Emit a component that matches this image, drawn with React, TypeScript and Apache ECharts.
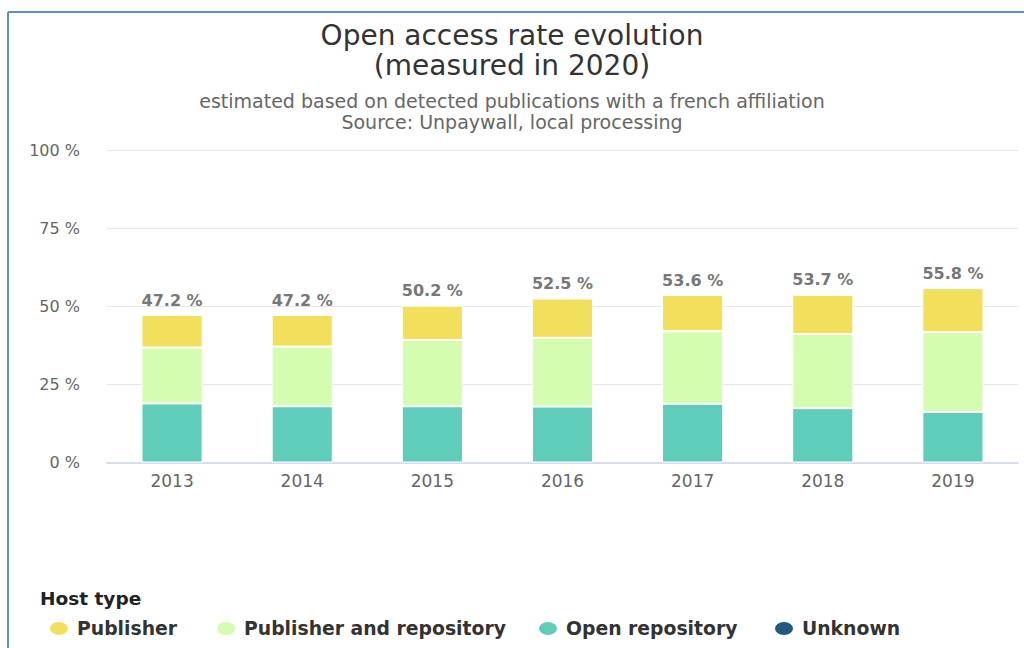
import React, { useEffect, useRef } from "react";
import * as echarts from "echarts";

const years = ["2013", "2014", "2015", "2016", "2017", "2018", "2019"];
const openRepository = [18.9, 18.0, 18.0, 17.9, 18.8, 17.4, 16.2];
const publisherAndRepository = [17.9, 19.1, 21.2, 22.0, 23.2, 23.7, 25.5];
const publisher = [10.4, 10.1, 11.0, 12.6, 11.6, 12.6, 14.1];
const unknown = [0, 0, 0, 0, 0, 0, 0];
const totals = ["47.2", "47.2", "50.2", "52.5", "53.6", "53.7", "55.8"];
const yTicks = [0, 25, 50, 75, 100];

const seriesNames = ["Publisher", "Publisher and repository", "Open repository", "Unknown"];
const colors: Record<string, string> = {
  Publisher: "#f2e05c",
  "Publisher and repository": "#d4fdb1",
  "Open repository": "#60cdbb",
  Unknown: "#21587f",
};
const legendLefts = [43, 210, 532, 768];
const FONT = "DejaVu Sans, sans-serif";

export default function App() {
  const ref = useRef<HTMLDivElement>(null);
  useEffect(() => {
    document.body.style.margin = "0";
    if (!ref.current) return;
    const chart = echarts.init(ref.current, null, { renderer: "svg" });
    const bar = (name: string, data: number[], extra: any = {}) => ({
      name,
      type: "bar",
      stack: "total",
      data,
      barWidth: "47%",
      itemStyle: { color: colors[name], borderColor: "#ffffff", borderWidth: 1 },
      ...extra,
    });
    const ellipse = "path://M10,0 A10,7.5 0 1 1 10,15 A10,7.5 0 1 1 10,0 Z";
    chart.setOption({
      animation: false,
      textStyle: { fontFamily: FONT },
      title: {
        text: "Open access rate evolution\n(measured in 2020)",
        subtext: "estimated based on detected publications with a french affiliation\nSource: Unpaywall, local processing",
        left: "center",
        top: 15,
        itemGap: 10,
        textStyle: { fontFamily: FONT, fontSize: 28, lineHeight: 30, color: "#333333", fontWeight: "normal" },
        subtextStyle: { fontFamily: FONT, fontSize: 19, lineHeight: 21, color: "#666666" },
      },
      legend: seriesNames.map((n, i) => ({
        data: [n],
        left: legendLefts[i],
        top: 614,
        icon: ellipse,
        itemWidth: 20,
        itemHeight: 15,
        selectedMode: false,
        textStyle: { fontFamily: FONT, fontSize: 18.8, fontWeight: "bold", color: "#333333", padding: [0, 0, 0, 3] },
      })),
      grid: { left: 107, right: 6, top: 150, bottom: 185.5 },
      xAxis: {
        type: "category",
        data: years,
        axisLine: { lineStyle: { color: "#d6deee", width: 2 } },
        axisTick: { show: false },
        axisLabel: { color: "#666666", fontSize: 17, margin: 10, fontFamily: FONT },
      },
      yAxis: {
        type: "value",
        min: yTicks[0],
        max: yTicks[yTicks.length - 1],
        interval: 25,
        axisLabel: { formatter: "{value} %", color: "#666666", fontSize: 16, margin: 27, fontFamily: FONT },
        splitLine: { lineStyle: { color: "#e6e6e6", width: 1 } },
        axisLine: { show: false },
        axisTick: { show: false },
      },
      series: [
        bar("Open repository", openRepository),
        bar("Publisher and repository", publisherAndRepository),
        bar("Publisher", publisher, {
          label: {
            show: true,
            position: "top",
            distance: 7,
            formatter: (p: any) => totals[p.dataIndex] + " %",
            color: "#777777",
            fontSize: 16,
            fontWeight: "bold",
            fontFamily: FONT,
          },
        }),
        bar("Unknown", unknown),
      ],
      graphic: [
        { type: "line", shape: { x1: 8, y1: 12, x2: 1024, y2: 12 }, style: { stroke: "#5b8fd1", lineWidth: 2 } },
        { type: "line", shape: { x1: 8, y1: 12, x2: 8, y2: 648 }, style: { stroke: "#5b8fd1", lineWidth: 2 } },
        {
          type: "text",
          left: 40,
          top: 589,
          style: { text: "Host type", fontFamily: FONT, fontSize: 18.5, fontWeight: "bold", fill: "#222222" },
        },
      ],
    });
    return () => chart.dispose();
  }, []);
  return <div ref={ref} style={{ width: 1024, height: 648 }} />;
}
